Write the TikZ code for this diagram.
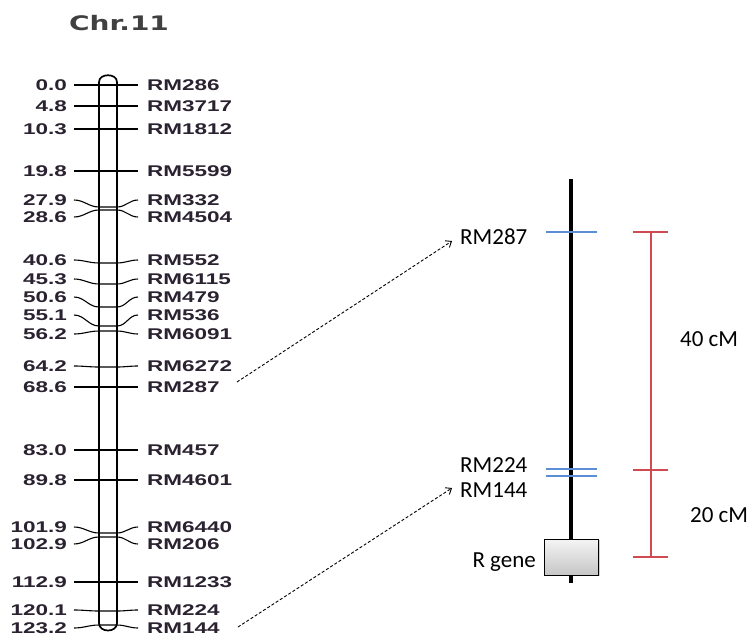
\documentclass[tikz,border=0pt]{standalone}
\usepackage{fontspec}
\setmainfont{Liberation Sans}
\newfontfamily\calibfont{Carlito}
\newfontfamily\dejafont{DejaVu Sans}
\usetikzlibrary{arrows.meta,shadows}
\definecolor{bluetick}{HTML}{5B8ED6}
\definecolor{redbar}{HTML}{D04A52}
\definecolor{labcol}{HTML}{2A2230}
\definecolor{titlecol}{HTML}{404040}
\newcommand\widetxt[1]{\scalebox{1.45}[1]{#1}}
\begin{document}
\begin{tikzpicture}[x=1pt,y=-1pt,
  chrwall/.style={line width=1.7pt},
  mtick/.style={line width=1.1pt},
  numlab/.style={anchor=east,inner sep=0pt,font=\fontsize{15.5}{15.5}\selectfont\bfseries,text=labcol},
  rmlab/.style={anchor=west,inner sep=0pt,font=\fontsize{15.5}{15.5}\selectfont\bfseries,text=labcol},
  maplab/.style={inner sep=0pt,font=\calibfont\fontsize{23}{23}\selectfont},
  bluemark/.style={bluetick,line width=1.2pt},
  redline/.style={redbar,line width=1.2pt},
  maparrow/.style={line width=0.9pt,dash pattern=on 3pt off 2pt,-{Straight Barb[length=5pt,width=8pt]}}
]
\useasboundingbox (0,0) rectangle (749,637);
% title
\node[text=titlecol,font=\dejafont\bfseries\fontsize{20}{20}\selectfont] (title) at (119,23) {\scalebox{1.4}[1]{Chr.11}};
% chromosome
\draw[chrwall,fill=white] (99,82) -- (99,623) .. controls (99,633) and (117,633) .. (117,623) -- (117,82) .. controls (117,73) and (99,73) .. (99,82) -- cycle;
% markers
\foreach \c/\r/\ly/\cy [count=\i] in {
  0.0/RM286/85/85, 4.8/RM3717/106/106, 10.3/RM1812/129/129, 19.8/RM5599/171/171,
  27.9/RM332/200/207, 28.6/RM4504/217/210, 40.6/RM552/260/263, 45.3/RM6115/279/284,
  50.6/RM479/297/307, 55.1/RM536/315/326, 56.2/RM6091/334/331, 64.2/RM6272/366/367,
  68.6/RM287/387/387, 83.0/RM457/450/450, 89.8/RM4601/480/480, 101.9/RM6440/527/533,
  102.9/RM206/544/537, 112.9/RM1233/582/582, 120.1/RM224/610/611, 123.2/RM144/628/625}
{
  \node[numlab] (L\i) at (67,\ly) {\widetxt{\c}};
  \node[rmlab] (R\i) at (147,\ly) {\widetxt{\r}};
  \draw[mtick] ([xshift=7pt]L\i.east) to[out=0,in=180] (99,\cy) -- (117,\cy) to[out=0,in=180] ([xshift=-9pt]R\i.west);
}
% physical map
\coordinate (mtop) at (571,179);
\coordinate (mbot) at (571,583);
\draw[line width=3.6pt] (mtop) -- (mbot);
\coordinate (b1l) at (546,232); \coordinate (b1r) at (597,232);
\coordinate (b2l) at (546,469); \coordinate (b2r) at (597,469);
\coordinate (b3l) at (546,476); \coordinate (b3r) at (597,476);
\draw[bluemark] (b1l) -- (b1r);
\draw[bluemark] (b2l) -- (b2r);
\draw[bluemark] (b3l) -- (b3r);
\node[draw,line width=0.9pt,top color=gray!8,bottom color=gray!45,minimum width=54pt,minimum height=36pt,inner sep=0pt,
      drop shadow={shadow xshift=1.2pt,shadow yshift=-1.2pt,fill=gray!60,opacity=0.6}] (rgene) at (571.5,557) {};
\node[maplab,anchor=east] (rgenelab) at (536,562) {R gene};
\node[maplab,anchor=west] (m287) at (460,237) {RM287};
\node[maplab,anchor=west] (m224) at (460,465) {RM224};
\node[maplab,anchor=west] (m144) at (460,490) {RM144};
% scale bar
\coordinate (r1) at (651,232); \coordinate (r2) at (651,470); \coordinate (r3) at (651,557);
\draw[redline] (r1) -- (r3);
\draw[redline] ([xshift=-18pt]r1) -- ([xshift=17pt]r1);
\draw[redline] ([xshift=-18pt]r2) -- ([xshift=17pt]r2);
\draw[redline] ([xshift=-18pt]r3) -- ([xshift=17pt]r3);
\node[maplab,anchor=west] (d40) at (680,339) {40 cM};
\node[maplab,anchor=west] (d20) at (690,515) {20 cM};
% arrows
\coordinate (a1s) at (237,382);
\coordinate (a1e) at (452,241);
\coordinate (a2s) at (238,627);
\coordinate (a2e) at (452,488);
\draw[maparrow] (a1s) -- (a1e);
\draw[maparrow] (a2s) -- (a2e);
\end{tikzpicture}
\end{document}
